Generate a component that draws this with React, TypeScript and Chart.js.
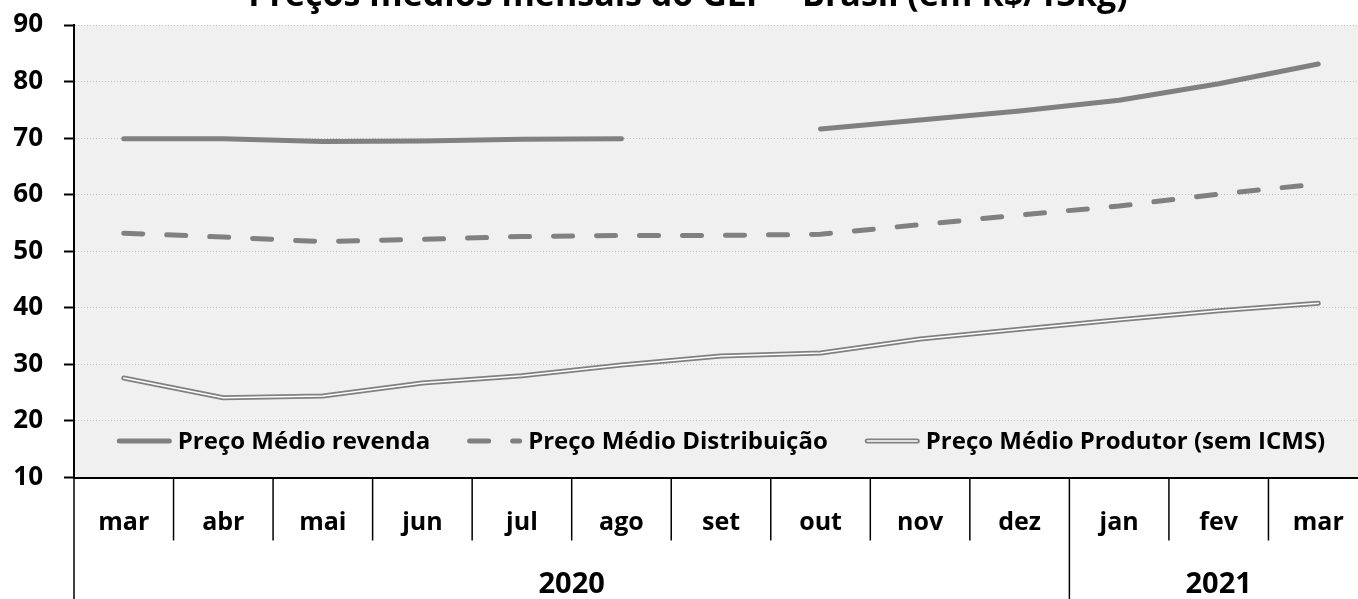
import React, { useEffect, useRef } from 'react';
import { Chart, registerables } from 'chart.js';

Chart.register(...registerables);

const chartTitle = 'Preços médios mensais do GLP – Brasil (em R$/13kg)';
const months = ['mar', 'abr', 'mai', 'jun', 'jul', 'ago', 'set', 'out', 'nov', 'dez', 'jan', 'fev', 'mar'];
const monthYears = ['2020', '2020', '2020', '2020', '2020', '2020', '2020', '2020', '2020', '2020', '2021', '2021', '2021'];
const yTicks = [10, 20, 30, 40, 50, 60, 70, 80, 90];

const revendaLabel = 'Preço Médio revenda';
const distribuicaoLabel = 'Preço Médio Distribuição';
const produtorLabel = 'Preço Médio Produtor (sem ICMS)';

const revenda = [69.9, 69.9, 69.4, 69.5, 69.8, 69.9, null, 71.6, 73.2, 74.8, 76.7, 79.6, 83.1];
const distribuicao = [53.2, 52.5, 51.7, 52.1, 52.6, 52.8, 52.8, 53.0, 54.7, 56.4, 58.0, 60.1, 61.9];
const produtor = [27.6, 24.1, 24.4, 26.7, 28.0, 29.9, 31.5, 32.0, 34.5, 36.2, 37.9, 39.5, 40.8];

const FONT = '"Open Sans", "DejaVu Sans", sans-serif';
const GRAY = '#808080';

const backgroundPlugin = {
  id: 'bgPlugin',
  beforeDraw(chart: any) {
    const { ctx, chartArea: a, width, height } = chart;
    ctx.save();
    ctx.fillStyle = '#ffffff';
    ctx.fillRect(0, 0, width, height);
    ctx.fillStyle = '#f0f0f0';
    ctx.fillRect(a.left, a.top, a.right - a.left, a.bottom - a.top);
    ctx.restore();
  },
};

const titlePlugin = {
  id: 'titlePlugin',
  afterDraw(chart: any) {
    const { ctx, width } = chart;
    ctx.save();
    ctx.font = `bold 34px ${FONT}`;
    ctx.fillStyle = '#000';
    ctx.textAlign = 'center';
    ctx.textBaseline = 'alphabetic';
    ctx.fillText(chartTitle, width / 2 + 3, 6);
    ctx.restore();
  },
};

const xAxisPlugin = {
  id: 'xAxisPlugin',
  afterDraw(chart: any) {
    const { ctx, chartArea: a, height } = chart;
    const xs = chart.scales.x;
    const n = months.length;
    const step = xs.getPixelForValue(1) - xs.getPixelForValue(0);
    ctx.save();
    ctx.strokeStyle = '#000';
    ctx.lineWidth = 1.5;
    for (let i = 0; i <= n; i++) {
      const bx = i < n ? xs.getPixelForValue(i) - step / 2 : xs.getPixelForValue(n - 1) + step / 2;
      const yearEdge = i === 0 || (i < n && monthYears[i] !== monthYears[i - 1]);
      ctx.beginPath();
      ctx.moveTo(bx, a.bottom);
      ctx.lineTo(bx, yearEdge ? height : a.bottom + 63);
      ctx.stroke();
    }
    ctx.fillStyle = '#000';
    ctx.textAlign = 'center';
    ctx.textBaseline = 'alphabetic';
    ctx.font = `bold 25px ${FONT}`;
    months.forEach((m, i) => {
      ctx.fillText(m, xs.getPixelForValue(i), a.bottom + 52);
    });
    ctx.font = `bold 29px ${FONT}`;
    let start = 0;
    for (let i = 1; i <= n; i++) {
      if (i === n || monthYears[i] !== monthYears[start]) {
        const left = xs.getPixelForValue(start) - step / 2;
        const right = xs.getPixelForValue(i - 1) + step / 2;
        ctx.fillText(monthYears[start], (left + right) / 2, a.bottom + 115);
        start = i;
      }
    }
    ctx.restore();
  },
};

const legendPlugin = {
  id: 'legendPlugin',
  afterDatasetsDraw(chart: any) {
    const { ctx, chartArea: a } = chart;
    const items = [
      { label: revendaLabel, kind: 'solid' },
      { label: distribuicaoLabel, kind: 'dash' },
      { label: produtorLabel, kind: 'double' },
    ];
    ctx.save();
    ctx.font = `bold 24px ${FONT}`;
    const sample = 55;
    const gapText = 6;
    const spacing = 37;
    const widths = items.map((it) => sample + gapText + ctx.measureText(it.label).width);
    const total = widths.reduce((s, w) => s + w, 0) + spacing * (items.length - 1);
    let x = (a.left + a.right) / 2 - total / 2;
    const cy = a.bottom - 36.5;
    items.forEach((it, i) => {
      ctx.save();
      ctx.lineCap = 'round';
      ctx.strokeStyle = GRAY;
      ctx.lineWidth = 5;
      if (it.kind === 'dash') ctx.setLineDash([19, 24]);
      ctx.beginPath();
      ctx.moveTo(x + 2.5, cy);
      ctx.lineTo(x + sample - 2.5, cy);
      ctx.stroke();
      if (it.kind === 'double') {
        ctx.strokeStyle = '#ffffff';
        ctx.lineWidth = 1.5;
        ctx.beginPath();
        ctx.moveTo(x + 2.5, cy);
        ctx.lineTo(x + sample - 2.5, cy);
        ctx.stroke();
      }
      ctx.restore();
      ctx.fillStyle = '#000';
      ctx.textAlign = 'left';
      ctx.textBaseline = 'middle';
      ctx.fillText(it.label, x + sample + gapText, cy + 1);
      x += widths[i] + spacing;
    });
    ctx.restore();
  },
};

export default function App() {
  const canvasRef = useRef<HTMLCanvasElement | null>(null);

  useEffect(() => {
    const canvas = canvasRef.current;
    if (!canvas) return;
    const chart = new Chart(canvas, {
      type: 'line',
      data: {
        labels: months,
        datasets: [
          {
            label: revendaLabel,
            data: revenda,
            borderColor: GRAY,
            borderWidth: 5,
            borderCapStyle: 'round',
            borderJoinStyle: 'round',
            pointRadius: 0,
            tension: 0,
            spanGaps: false,
            order: 1,
          },
          {
            label: distribuicaoLabel,
            data: distribuicao,
            borderColor: GRAY,
            borderWidth: 5,
            borderDash: [19, 24],
            borderCapStyle: 'round',
            borderJoinStyle: 'round',
            pointRadius: 0,
            tension: 0,
            order: 1,
          },
          {
            label: produtorLabel,
            data: produtor,
            borderColor: GRAY,
            borderWidth: 5,
            borderCapStyle: 'round',
            borderJoinStyle: 'round',
            pointRadius: 0,
            tension: 0,
            order: 1,
          },
          {
            label: produtorLabel + ' (interno)',
            data: produtor,
            borderColor: '#ffffff',
            borderWidth: 1.5,
            borderCapStyle: 'round',
            borderJoinStyle: 'round',
            pointRadius: 0,
            tension: 0,
            order: 0,
          },
        ],
      },
      options: {
        responsive: false,
        animation: false,
        layout: { padding: { left: 12, right: 2, top: 25, bottom: 121.5 } },
        plugins: {
          legend: { display: false },
          title: { display: false },
          tooltip: { enabled: false },
        },
        scales: {
          x: {
            type: 'category',
            offset: true,
            grid: { display: false, drawTicks: false },
            ticks: { display: false },
            border: { display: true, color: '#000', width: 2 },
          },
          y: {
            min: 10,
            max: 90,
            afterBuildTicks: (s: any) => {
              s.ticks = yTicks.map((v) => ({ value: v }));
            },
            afterFit: (s: any) => {
              s.width = 62;
              s.paddingTop = 0;
              s.paddingBottom = 0;
            },
            ticks: {
              color: '#000',
              padding: 21,
              font: { family: FONT, size: 26, weight: 'bold' },
            },
            grid: {
              color: '#c4c4c4',
              lineWidth: 1,
              tickColor: '#000',
              tickWidth: 2,
              tickLength: 10,
              drawTicks: true,
            },
            border: { display: true, color: '#000', width: 2, dash: [1, 2] },
          },
        },
      },
      plugins: [backgroundPlugin, titlePlugin, xAxisPlugin, legendPlugin],
    } as any);
    return () => chart.destroy();
  }, []);

  return (
    <div
      style={{
        position: 'fixed',
        left: 0,
        top: 0,
        width: 1358,
        height: 599,
        overflow: 'hidden',
        background: '#ffffff',
      }}
    >
      <canvas ref={canvasRef} width={1370} height={599} style={{ display: 'block' }} />
    </div>
  );
}
